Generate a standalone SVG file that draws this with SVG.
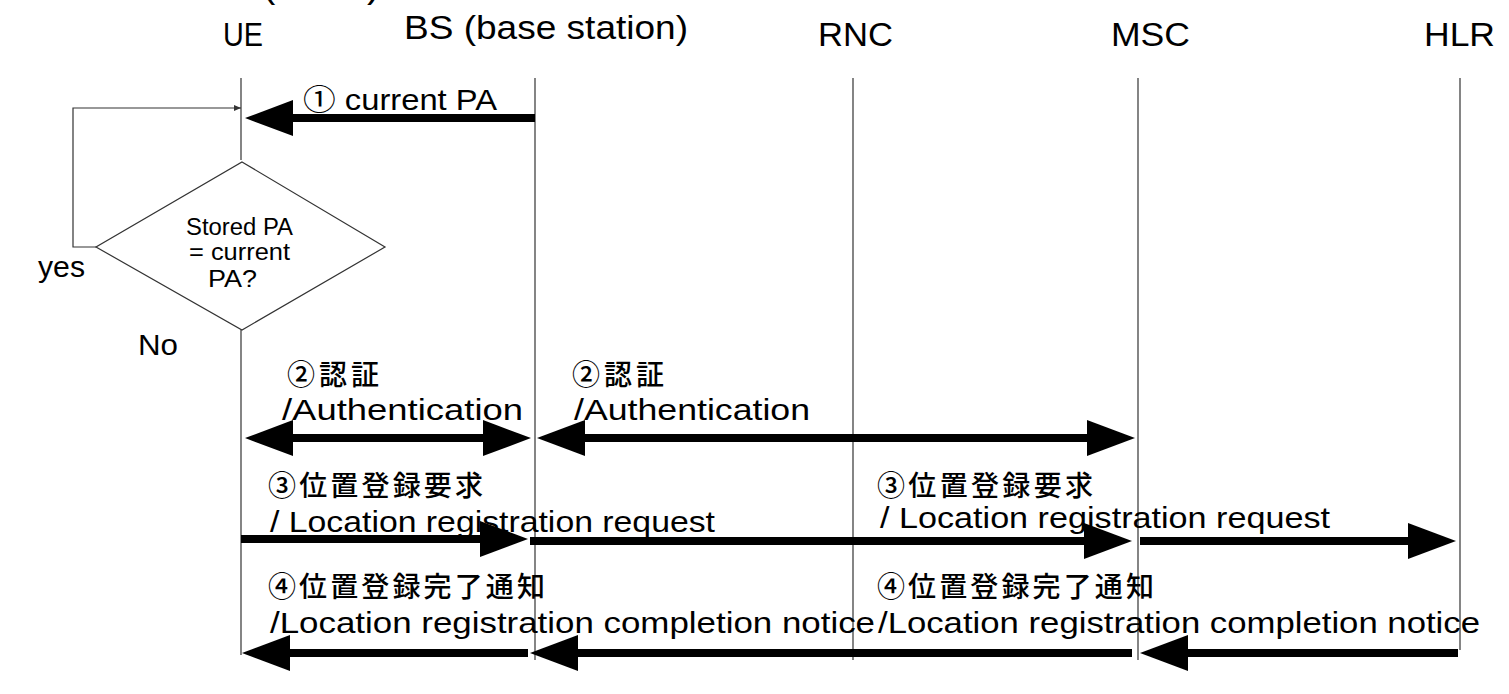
<svg xmlns="http://www.w3.org/2000/svg" width="1509" height="694" viewBox="0 0 1509 694">
<defs>
<style>
.lbl{font-family:"Liberation Sans","Noto Sans CJK JP",sans-serif;fill:#000}
.hd{font-size:34px}
.msg{font-size:30px}
.dm{font-size:23px}
.jp{font-family:"Noto Sans CJK JP","Liberation Sans",sans-serif;font-size:28px;font-weight:500;fill:#000}
.life{stroke:#333;stroke-width:1.2;fill:none}
.thin{stroke:#333;stroke-width:1.2;fill:none}
.big{stroke:#000;stroke-width:8;fill:none}
</style>
<marker id="ah" markerUnits="userSpaceOnUse" viewBox="0 -19 49 38" refX="0" refY="0" markerWidth="49" markerHeight="38" orient="auto-start-reverse">
<path d="M0,-18 L48,0 L0,18 Z" fill="#000"/>
</marker>
<marker id="sm" markerUnits="userSpaceOnUse" viewBox="0 -4 8 8" refX="7" refY="0" markerWidth="8" markerHeight="8" orient="auto">
<path d="M0,-3 L7,0 L0,3 Z" fill="#333"/>
</marker>
</defs>
<rect width="1509" height="694" fill="#fff"/>
<text class="lbl" x="262" y="-3" font-size="40">(</text>
<text class="lbl" x="367" y="-3" font-size="40">)</text>
<g id="ue">
<text class="lbl hd" x="223" y="46" textLength="40" lengthAdjust="spacingAndGlyphs">UE</text>
<line class="life" x1="241" y1="78" x2="241" y2="160"/>
<line class="life" x1="241" y1="330" x2="241" y2="655"/>
</g>
<g id="bs">
<text class="lbl hd" x="404" y="39" textLength="284" lengthAdjust="spacingAndGlyphs">BS (base station)</text>
<line class="life" x1="535" y1="78" x2="535" y2="660"/>
</g>
<g id="rnc">
<text class="lbl hd" x="818" y="46" textLength="75" lengthAdjust="spacingAndGlyphs">RNC</text>
<line class="life" x1="853" y1="78" x2="853" y2="660"/>
</g>
<g id="msc">
<text class="lbl hd" x="1111" y="46" textLength="79" lengthAdjust="spacingAndGlyphs">MSC</text>
<line class="life" x1="1138" y1="78" x2="1138" y2="660"/>
</g>
<g id="hlr">
<text class="lbl hd" x="1424" y="46" textLength="71" lengthAdjust="spacingAndGlyphs">HLR</text>
<line class="life" x1="1460" y1="78" x2="1460" y2="650"/>
</g>
<g id="decision">
<polygon class="thin" points="242,162 385,247 242,330 96,247"/>
<text class="lbl dm" x="186" y="235" textLength="107" lengthAdjust="spacingAndGlyphs">Stored PA</text>
<text class="lbl dm" x="189" y="260" textLength="101" lengthAdjust="spacingAndGlyphs">= current</text>
<text class="lbl dm" x="208" y="287" textLength="49" lengthAdjust="spacingAndGlyphs">PA?</text>
</g>
<g id="yes"><text class="lbl msg" x="38" y="277" textLength="47" lengthAdjust="spacingAndGlyphs">yes</text></g>
<g id="no"><text class="lbl msg" x="138" y="355" textLength="40" lengthAdjust="spacingAndGlyphs">No</text></g>
<g id="labels">
<text class="lbl msg" x="303" y="110" textLength="194" lengthAdjust="spacingAndGlyphs">① current PA</text>
<text class="jp" x="287" y="385" textLength="92">②認証</text>
<text class="lbl msg" x="282" y="420" textLength="241" lengthAdjust="spacingAndGlyphs">/Authentication</text>
<text class="jp" x="572" y="385" textLength="92">②認証</text>
<text class="lbl msg" x="574" y="420" textLength="236" lengthAdjust="spacingAndGlyphs">/Authentication</text>
<text class="jp" x="268" y="496" textLength="215">③位置登録要求</text>
<text class="lbl msg" x="270" y="532" textLength="445" lengthAdjust="spacingAndGlyphs">/ Location registration request</text>
<text class="jp" x="877" y="496" textLength="216">③位置登録要求</text>
<text class="lbl msg" x="880" y="528" textLength="450" lengthAdjust="spacingAndGlyphs">/ Location registration request</text>
<text class="jp" x="268" y="597" textLength="277">④位置登録完了通知</text>
<text class="lbl msg" x="270" y="633" textLength="605" lengthAdjust="spacingAndGlyphs">/Location registration completion notice</text>
<text class="jp" x="877" y="597" textLength="277">④位置登録完了通知</text>
<text class="lbl msg" x="878" y="633" textLength="602" lengthAdjust="spacingAndGlyphs">/Location registration completion notice</text>
</g>
<g id="connectors">
<polyline class="thin" points="96,247 73,247 73,108 241,108" marker-end="url(#sm)"/>
<line class="big" x1="535" y1="118" x2="293" y2="118" marker-end="url(#ah)"/>
<line class="big" x1="293" y1="438" x2="483" y2="438" marker-start="url(#ah)" marker-end="url(#ah)"/>
<line class="big" x1="585" y1="438" x2="1087" y2="438" marker-start="url(#ah)" marker-end="url(#ah)"/>
<line class="big" x1="241" y1="539" x2="480" y2="539" marker-end="url(#ah)"/>
<line class="big" x1="530" y1="541" x2="1084" y2="541" marker-end="url(#ah)"/>
<line class="big" x1="1140" y1="541" x2="1408" y2="541" marker-end="url(#ah)"/>
<line class="big" x1="528" y1="653" x2="290" y2="653" marker-end="url(#ah)"/>
<line class="big" x1="1132" y1="653" x2="578" y2="653" marker-end="url(#ah)"/>
<line class="big" x1="1458" y1="653" x2="1188" y2="653" marker-end="url(#ah)"/>
</g>
</svg>
